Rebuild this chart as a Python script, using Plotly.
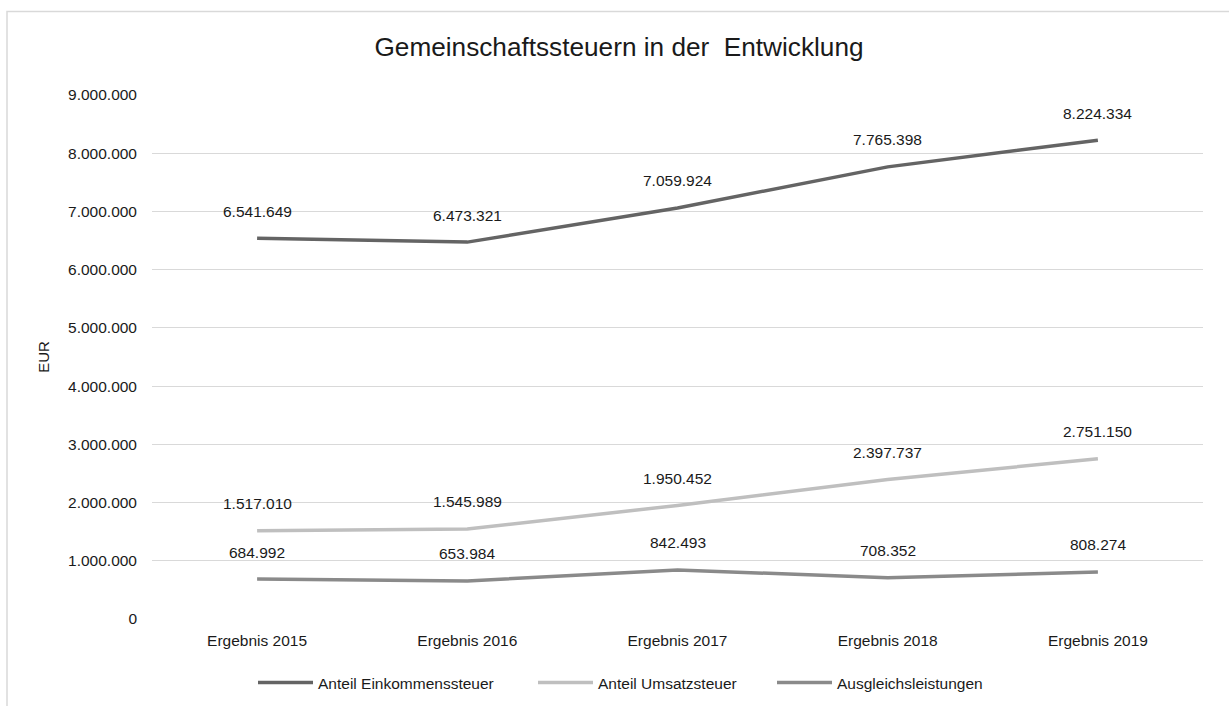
import plotly.graph_objects as go

categories = ["Ergebnis 2015", "Ergebnis 2016", "Ergebnis 2017", "Ergebnis 2018", "Ergebnis 2019"]
einkommen = [6541649, 6473321, 7059924, 7765398, 8224334]
umsatz = [1517010, 1545989, 1950452, 2397737, 2751150]
ausgleich = [684992, 653984, 842493, 708352, 808274]
y_ticks = list(range(0, 9000001, 1000000))

series = [
    ("Anteil Einkommenssteuer", einkommen, "#646464", "legend"),
    ("Anteil Umsatzsteuer", umsatz, "#bfbfbf", "legend2"),
    ("Ausgleichsleistungen", ausgleich, "#8a8a8a", "legend3"),
]

FONT = "Liberation Sans, Arial, sans-serif"
TXT = "#1a1a1a"
W, H = 1229, 706
L, R, T, B = 152, 26, 95, 87
PW, PH = W - L - R, H - T - B


def de(v):
    return f"{v:,}".replace(",", ".")


def px_x(p):
    return (p - L) / PW


def px_y(p):
    return (H - B - p) / PH


fig = go.Figure()
annotations = []
for name, vals, col, lg in series:
    fig.add_trace(go.Scatter(
        x=categories, y=vals, name=name, mode="lines",
        line=dict(color=col, width=3.5), legend=lg, showlegend=True,
        hoverinfo="skip",
    ))
    for c, v in zip(categories, vals):
        annotations.append(dict(
            x=c, y=v, xref="x", yref="y", text=de(v), showarrow=False,
            yshift=27, yanchor="middle", xanchor="center",
            font=dict(family=FONT, size=15.5, color=TXT),
        ))

legend_left_px = [253, 533, 772]
leg_common = dict(orientation="h", yref="container", xref="container",
                  yanchor="middle", y=1 - 683 / H, xanchor="left",
                  font=dict(family=FONT, size=15.5, color=TXT), itemwidth=55,
                  bgcolor="rgba(0,0,0,0)", visible=True)

fig.update_layout(
    width=W, height=H, showlegend=True,
    margin=dict(l=L, r=R, t=T, b=B),
    paper_bgcolor="white", plot_bgcolor="white",
    font=dict(family=FONT, size=15.5, color=TXT),
    title=dict(text="Gemeinschaftssteuern in der  Entwicklung",
               x=619 / W, xanchor="center", y=1 - 47 / H, yanchor="middle",
               font=dict(family=FONT, size=26.2, color=TXT)),
    xaxis=dict(range=[-0.5, 4.5], showgrid=False, zeroline=False, showline=False,
               ticks="", tickfont=dict(size=15.5, color=TXT), ticklabelstandoff=10,
               automargin=False),
    yaxis=dict(range=[0, 9000000], tickvals=y_ticks, ticktext=[de(t) for t in y_ticks],
               showgrid=True, gridcolor="#d9d9d9", gridwidth=1.3, zeroline=False,
               showline=False, ticks="", ticklabelstandoff=14,
               tickfont=dict(size=15.5, color=TXT),
               title=dict(text="EUR", standoff=14, font=dict(size=15, color=TXT))),
    legend=dict(x=legend_left_px[0] / W, **leg_common),
    legend2=dict(x=legend_left_px[1] / W, **leg_common),
    legend3=dict(x=legend_left_px[2] / W, **leg_common),
    annotations=annotations,
    shapes=[dict(type="rect", xref="paper", yref="paper",
                 x0=px_x(7), x1=1.2, y0=-0.4, y1=px_y(11.5),
                 line=dict(color="#d9d9d9", width=1.5), fillcolor="rgba(0,0,0,0)",
                 layer="below")],
)

fig.write_html("out.html", config={"displayModeBar": False},
               post_script="document.body.style.margin='0';")
